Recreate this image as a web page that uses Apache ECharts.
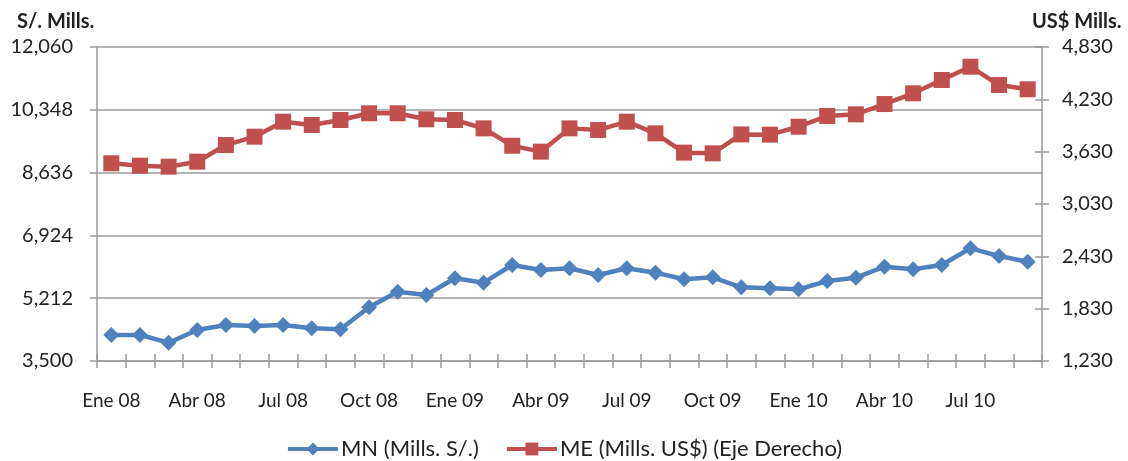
<!DOCTYPE html>
<html>
<head>
<meta charset="utf-8">
<script src="https://cdn.jsdelivr.net/npm/echarts@6/dist/echarts.min.js"></script>
<style>
  html, body { margin: 0; padding: 0; background: #fff; }
  #chart { width: 1128px; height: 461px; }
</style>
</head>
<body>
<div id="chart"></div>
<script>
// months Ene 08 .. Sep 10
var months = ['Ene 08', 'Feb 08', 'Mar 08', 'Abr 08', 'May 08', 'Jun 08', 'Jul 08', 'Ago 08', 'Set 08', 'Oct 08', 'Nov 08', 'Dic 08',
    'Ene 09', 'Feb 09', 'Mar 09', 'Abr 09', 'May 09', 'Jun 09', 'Jul 09', 'Ago 09', 'Set 09', 'Oct 09', 'Nov 09', 'Dic 09',
    'Ene 10', 'Feb 10', 'Mar 10', 'Abr 10', 'May 10', 'Jun 10', 'Jul 10', 'Ago 10', 'Set 10'];

// MN, soles (left axis)
var mn = [4209, 4209, 3999, 4345, 4481, 4454, 4481, 4390, 4364, 4963, 5390, 5299,
    5754, 5635, 6117, 5981, 6027, 5844, 6027, 5908, 5727, 5782, 5509, 5482,
    5454, 5681, 5771, 6071, 6000, 6117, 6572, 6362, 6207];

// ME, dollars (right axis)
var me = [3497, 3469, 3458, 3515, 3706, 3802, 3974, 3936, 3993, 4070, 4070, 4001,
    3993, 3897, 3698, 3630, 3897, 3878, 3974, 3840, 3619, 3611, 3828, 3825,
    3916, 4039, 4058, 4176, 4299, 4452, 4604, 4394, 4345];

var leftMin = 3500, leftStep = 1712, leftMax = 12060;
var rightMin = 1230, rightStep = 600, rightMax = 4830;

var font = 'Lato';
var textColor = '#222';
var gray = '#9a9a9a';

function fmt(v) {
    return String(v).replace(/(\d)(?=(\d{3})+$)/g, '$1,');
}

var chart = echarts.init(document.getElementById('chart'));

chart.setOption({
    animation: false,
    title: [
        { text: 'S/. Mills.', left: 12, top: 7, textStyle: { fontFamily: font, fontSize: 20, fontWeight: 'bold', color: textColor } },
        { text: 'US$ Mills.', left: 1027, top: 7, textStyle: { fontFamily: font, fontSize: 20, fontWeight: 'bold', color: textColor } }
    ],
    grid: { left: 97, right: 86, top: 47, bottom: 100 },
    legend: {
        top: 433,
        left: 'center',
        itemWidth: 50,
        itemHeight: 16,
        itemGap: 26,
        lineStyle: { width: 4 },
        textStyle: { fontFamily: font, fontSize: 22, color: textColor, padding: [0, 0, 0, -2] },
        data: ['MN (Mills. S/.)', 'ME (Mills. US$) (Eje Derecho)']
    },
    xAxis: [{
        type: 'category',
        data: months,
        boundaryGap: true,
        axisLine: { lineStyle: { color: gray, width: 1.5 } },
        axisTick: { show: true, length: 7, interval: 0, lineStyle: { color: gray, width: 1.5 } },
        axisLabel: {
            interval: 2, margin: 30,
            fontFamily: font, fontSize: 19, color: textColor
        }
    }, {
        type: 'category',
        data: months,
        position: 'bottom',
        boundaryGap: true,
        axisLine: { show: false },
        axisTick: { show: true, inside: true, length: 7, interval: 0, lineStyle: { color: gray, width: 1.5 } },
        axisLabel: { show: false }
    }],
    yAxis: [{
        type: 'value',
        min: leftMin, max: leftMax, interval: leftStep,
        axisLine: { show: true, lineStyle: { color: gray, width: 1.5 } },
        axisTick: { show: true, length: 7, lineStyle: { color: gray, width: 1.5 } },
        splitLine: { lineStyle: { color: gray, width: 1.5 } },
        axisLabel: { margin: 24, fontFamily: font, fontSize: 20, color: textColor, formatter: fmt }
    }, {
        type: 'value',
        position: 'right',
        min: rightMin, max: rightMax, interval: rightStep,
        axisLine: { show: true, lineStyle: { color: gray, width: 1.5 } },
        axisTick: { show: true, length: 7, lineStyle: { color: gray, width: 1.5 } },
        splitLine: { show: false },
        axisLabel: { margin: 20, fontFamily: font, fontSize: 20, color: textColor, formatter: fmt }
    }, {
        type: 'value',
        position: 'right',
        min: rightMin, max: rightMax, interval: rightStep,
        axisLine: { show: false },
        axisTick: { show: true, inside: true, length: 7, lineStyle: { color: gray, width: 1.5 } },
        splitLine: { show: false },
        axisLabel: { show: false }
    }],
    series: [{
        name: 'MN (Mills. S/.)',
        type: 'line',
        yAxisIndex: 0,
        data: mn,
        symbol: 'diamond',
        symbolSize: 16,
        lineStyle: { color: '#4F81BD', width: 4.5 },
        itemStyle: { color: '#4F81BD' }
    }, {
        name: 'ME (Mills. US$) (Eje Derecho)',
        type: 'line',
        yAxisIndex: 1,
        data: me,
        symbol: 'rect',
        symbolSize: 16,
        lineStyle: { color: '#C0504D', width: 4.5 },
        itemStyle: { color: '#C0504D' }
    }]
});
</script>
</body>
</html>
